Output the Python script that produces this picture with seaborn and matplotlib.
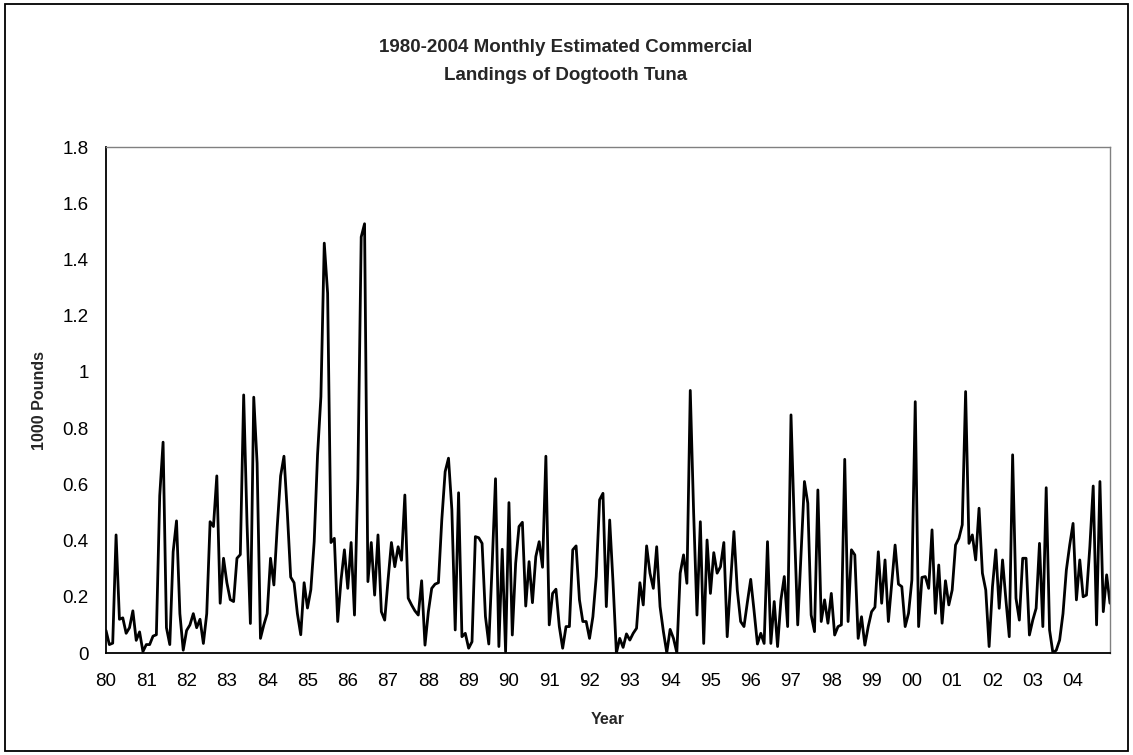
import matplotlib
matplotlib.use("Agg")
import numpy as np
import pandas as pd
import matplotlib.pyplot as plt
import seaborn as sns
from matplotlib.patches import Rectangle

# Monthly landings (1000 pounds), Jan..Dec each year
landings_1980_1984 = [
    0.08, 0.03, 0.035, 0.42, 0.12, 0.125, 0.07, 0.09, 0.15, 0.045, 0.075, 0.005,
    0.03, 0.03, 0.06, 0.065, 0.56, 0.75, 0.09, 0.03, 0.36, 0.47, 0.14, 0.01,
    0.08, 0.1, 0.14, 0.09, 0.12, 0.034, 0.14, 0.467, 0.45, 0.63, 0.177, 0.337,
    0.25, 0.19, 0.183, 0.337, 0.35, 0.918, 0.46, 0.105, 0.91, 0.675, 0.052, 0.1,
    0.14, 0.337, 0.242, 0.45, 0.63, 0.70, 0.5, 0.27, 0.25, 0.14, 0.065, 0.25,
]
landings_1985_1989 = [
    0.16, 0.225, 0.396, 0.705, 0.912, 1.458, 1.28, 0.393, 0.408, 0.112, 0.26, 0.367,
    0.23, 0.393, 0.135, 0.62, 1.48, 1.527, 0.254, 0.393, 0.206, 0.42, 0.147, 0.117,
    0.26, 0.393, 0.307, 0.378, 0.33, 0.562, 0.195, 0.171, 0.15, 0.135, 0.257, 0.028,
    0.147, 0.23, 0.245, 0.25, 0.473, 0.645, 0.693, 0.51, 0.082, 0.57, 0.058, 0.07,
    0.017, 0.04, 0.414, 0.41, 0.39, 0.13, 0.032, 0.313, 0.62, 0.023, 0.369, 0.005,
]
landings_1990_1994 = [
    0.535, 0.064, 0.319, 0.45, 0.465, 0.167, 0.325, 0.179, 0.343, 0.396, 0.305, 0.70,
    0.1, 0.212, 0.227, 0.094, 0.017, 0.094, 0.094, 0.367, 0.381, 0.189, 0.112, 0.112,
    0.052, 0.129, 0.272, 0.545, 0.568, 0.165, 0.473, 0.25, 0.0, 0.052, 0.02, 0.068,
    0.046, 0.07, 0.088, 0.25, 0.171, 0.381, 0.284, 0.23, 0.378, 0.165, 0.076, 0.001,
    0.084, 0.052, 0.001, 0.284, 0.349, 0.248, 0.934, 0.5, 0.135, 0.467, 0.034, 0.402,
]
landings_1995_1999 = [
    0.212, 0.357, 0.284, 0.307, 0.393, 0.058, 0.25, 0.432, 0.224, 0.112, 0.094, 0.18,
    0.262, 0.15, 0.032, 0.07, 0.034, 0.396, 0.034, 0.183, 0.023, 0.189, 0.272, 0.094,
    0.847, 0.45, 0.1, 0.355, 0.61, 0.533, 0.135, 0.076, 0.58, 0.112, 0.189, 0.106,
    0.212, 0.064, 0.094, 0.1, 0.689, 0.112, 0.367, 0.349, 0.052, 0.129, 0.028, 0.094,
    0.147, 0.163, 0.36, 0.177, 0.331, 0.112, 0.25, 0.384, 0.245, 0.236, 0.094, 0.141,
]
landings_2000_2004 = [
    0.26, 0.894, 0.094, 0.269, 0.272, 0.23, 0.438, 0.141, 0.313, 0.106, 0.257, 0.171,
    0.224, 0.384, 0.408, 0.456, 0.93, 0.39, 0.42, 0.331, 0.515, 0.284, 0.224, 0.023,
    0.236, 0.367, 0.159, 0.331, 0.189, 0.058, 0.705, 0.195, 0.117, 0.337, 0.337, 0.064,
    0.117, 0.159, 0.39, 0.094, 0.588, 0.082, 0.0, 0.01, 0.046, 0.14, 0.295, 0.384,
    0.461, 0.189, 0.331, 0.2, 0.206, 0.378, 0.594, 0.1, 0.61, 0.147, 0.278, 0.177,
]
year_labels = ["80", "81", "82", "83", "84", "85", "86", "87", "88", "89",
               "90", "91", "92", "93", "94", "95", "96", "97", "98", "99",
               "00", "01", "02", "03", "04"]
y_ticks = [0, 0.2, 0.4, 0.6, 0.8, 1.0, 1.2, 1.4, 1.6, 1.8]
y_tick_labels = ["0", "0.2", "0.4", "0.6", "0.8", "1", "1.2", "1.4", "1.6", "1.8"]

values = (landings_1980_1984 + landings_1985_1989 + landings_1990_1994
          + landings_1995_1999 + landings_2000_2004)
df = pd.DataFrame({"month": np.arange(len(values)), "landings": values})

sns.set_style("white")
plt.rcParams["font.family"] = ["Liberation Sans", "DejaVu Sans"]

W, H = 1133, 755
fig = plt.figure(figsize=(W / 100, H / 100), dpi=100)
fig.patch.set_facecolor("white")
left, right, top, bottom = 106, 1110, 147, 653
ax = fig.add_axes([left / W, 1 - bottom / H, (right - left) / W, (bottom - top) / H])

sns.lineplot(data=df, x="month", y="landings", ax=ax, color="black",
             linewidth=2.0, legend=False)

ax.set_xlim(0, len(values) - 1)
ax.set_ylim(0, 1.8)
ax.set_xticks(np.arange(0, len(values), 12))
ax.set_xticklabels(year_labels)
ax.set_yticks(y_ticks)
ax.set_yticklabels(y_tick_labels)
ax.tick_params(axis="both", direction="inout", length=9, width=1.1, color="black",
               labelsize=13.5, labelcolor="black")
ax.tick_params(axis="x", pad=10)
ax.tick_params(axis="y", pad=8)
ax.set_xlabel("")
ax.set_ylabel("")

for side in ["left", "bottom"]:
    ax.spines[side].set_color("black")
    ax.spines[side].set_linewidth(1.3)
for side in ["top", "right"]:
    ax.spines[side].set_color("#808080")
    ax.spines[side].set_linewidth(1.0)
    ax.spines[side].set_visible(True)

fig.text(566 / W, 1 - 47 / H, "1980-2004 Monthly Estimated Commercial",
         ha="center", va="center", fontsize=13.5, fontweight="bold")
fig.text(566 / W, 1 - 76 / H, "Landings of Dogtooth Tuna",
         ha="center", va="center", fontsize=13.5, fontweight="bold")
fig.text(40 / W, 1 - 400 / H, "1000 Pounds", rotation=90, ha="center",
         va="center", fontsize=11.5, fontweight="bold")
fig.text(608 / W, 1 - 720 / H, "Year", ha="center", va="center",
         fontsize=11.5, fontweight="bold")

fig.patches.append(Rectangle((5 / W, 4 / H), 1 - 10 / W, 1 - 8 / H,
                             transform=fig.transFigure, fill=False,
                             edgecolor="black", linewidth=1.3))

fig.savefig("out.png", dpi=100, facecolor="white")
